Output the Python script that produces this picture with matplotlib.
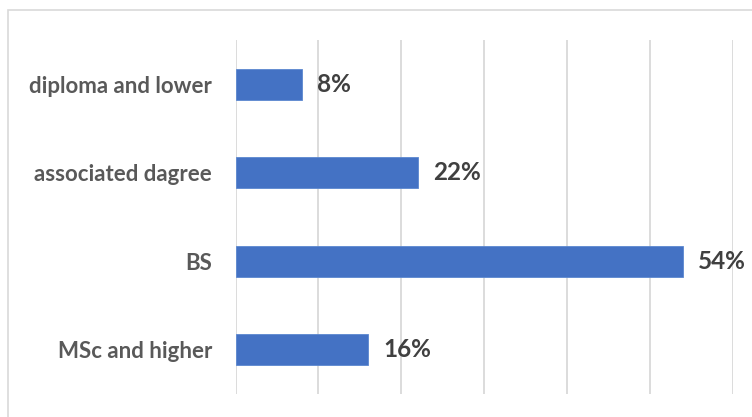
import matplotlib.pyplot as plt
from matplotlib.patches import Rectangle

# education levels, top to bottom
levels = ["diploma and lower", "associated dagree", "BS", "MSc and higher"]
shares = [8, 22, 54, 16]
xticks = [0, 10, 20, 30, 40, 50, 60]

bar_color = "#4472C4"
grid_color = "#D9D9D9"

plt.rcParams["font.family"] = ["Lato", "DejaVu Sans"]

fig = plt.figure(figsize=(7.52, 4.17), dpi=100)
ax = fig.add_axes([235.5 / 752, 1 - 394 / 417, (732.5 - 235.5) / 752, (394 - 40) / 417])

ypos = list(range(len(levels)))[::-1]
ax.barh(ypos, shares, height=0.35, color=bar_color, edgecolor="#5B87D0", linewidth=0.6, zorder=3)

for y, v in zip(ypos, shares):
    ax.annotate(f"{v}%", (v, y), xytext=(11, 0), textcoords="offset points",
                ha="left", va="center", fontsize=17.5, fontweight="bold", color="#404040")

ax.set_xlim(0, 60)
ax.set_ylim(-0.5, len(levels) - 0.5)
ax.set_xticks(xticks)
ax.xaxis.grid(True, color=grid_color, linewidth=1.3, zorder=0)
ax.tick_params(axis="x", length=0, labelbottom=False)
ax.tick_params(axis="y", length=0, pad=17)
ax.set_yticks(ypos)
ax.set_yticklabels(levels, fontsize=16, fontweight="bold", color="#595959")
for s in ax.spines.values():
    s.set_visible(False)

# light chart-area border
fig.patches.append(Rectangle((8 / 752, -0.01), 1.0, 1 - 10 / 417 + 0.01, transform=fig.transFigure,
                             fill=False, edgecolor="#D9D9D9", linewidth=1.2))

fig.savefig("out.png", dpi=100)
